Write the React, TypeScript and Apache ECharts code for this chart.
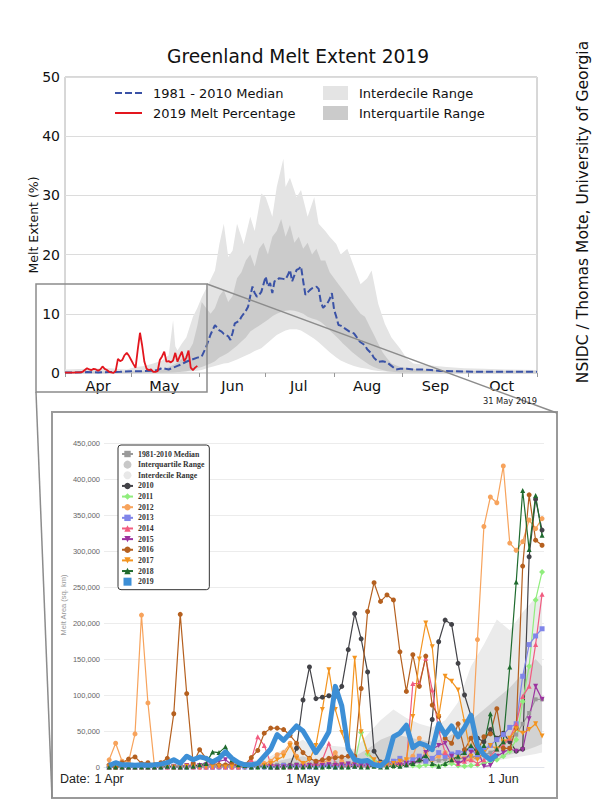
import React, { useEffect, useRef } from "react";
import * as echarts from "echarts";

// ---------- TOP CHART (day index: 0 = 1 Apr) ----------
const monthNames = ["Apr", "May", "Jun", "Jul", "Aug", "Sep", "Oct"];
const monthLabelDays = [15, 45, 76, 106, 137, 168, 198];
const monthStartDays = [0, 30, 61, 91, 122, 153, 183, 214];

// 1981-2010 median melt extent (%)
const medianTop: number[][] = [[0,0.1],[5,0.1],[10,0.15],[15,0.1],[20,0.15],[25,0.2],[30,0.3],[35,0.3],[40,0.4],[42,0.5],[44,0.85],[47,0.6],[49,0.9],[51,1.2],[53,1.5],[55,1.9],[57,2.2],[60,2.6],[62,2.8],[64,4.4],[66,6.5],[68,8.1],[70,7.2],[71,7.0],[72,6.6],[73,6.4],[74,6.2],[75,5.6],[76,6.8],[77,8.4],[79,8.8],[80,9.5],[82,10.5],[83,11.2],[84,13],[85,14.6],[86,13.5],[87,12.9],[88,13.2],[89,13.7],[90,15],[91,16.3],[92,14.6],[93,15.2],[94,13.5],[95,15.5],[96,15.6],[97,16],[99,15.9],[100,15.8],[101,16.5],[102,17.4],[103,15.5],[104,16.5],[105,17.4],[106,17.6],[107,18],[108,15.5],[109,13.2],[110,13.6],[111,14],[112,14.3],[114,14.6],[115,14.2],[116,12],[117,11],[118,11.4],[119,11.8],[120,12.5],[121,13.5],[122,10.7],[123,9.5],[124,8.1],[125,8],[126,7.8],[127,7.5],[129,7],[131,6.7],[132,6.2],[133,5.6],[134,5.2],[136,4.7],[137,4],[139,3.3],[140,2.6],[142,1.9],[144,2.0],[146,1.8],[148,1.2],[150,0.6],[152,0.7],[155,0.7],[158,0.6],[162,0.6],[166,0.5],[170,0.35],[175,0.3],[180,0.25],[190,0.2],[200,0.2],[214,0.2]];

// 2019 melt percentage (%), 1 Apr - 31 May
const melt2019Top = [0.05,0.05,0.05,0.05,0.05,0.1,0.1,0.1,0.2,0.5,0.8,0.6,0.5,0.7,0.6,0.4,0.6,1.1,0.7,0.5,0.2,0.1,0.0,0.4,2.4,2.0,2.2,3.0,3.4,2.9,2.2,1.5,0.9,4.0,6.8,4.6,1.9,0.7,0.5,0.6,0.2,0.2,0.3,2.2,2.8,3.6,1.9,2.0,1.8,2.1,3.4,1.9,2.8,3.6,2.0,2.6,3.8,0.9,0.5,0.9,1.2];

// interdecile range [day, low, high]
const interdecileTop: number[][] = [[0,0,0.6],[10,0,0.7],[20,0,0.8],[28,0,0.6],[32,0,1.0],[36,0,1.2],[40,0,1.6],[44,0.05,2.1],[47,0.1,3],[49,0.1,8.9],[50,0.1,4.5],[51,0.1,3.8],[53,0.2,5],[55,0.2,6],[58,0.3,9.5],[60,0.4,11],[62,0.5,12.8],[65,0.9,15],[68,1.2,17.3],[70,1.4,21.8],[72,1.6,25.2],[74,1.7,19.6],[76,2.0,20.7],[78,2.3,25.2],[81,2.8,21.8],[84,3.3,26.4],[86,3.7,24],[89,4.2,30.3],[91,4.8,29.7],[94,5.8,26.4],[96,6.4,31.4],[99,7.0,36.2],[100,7.2,31.4],[102,7.4,33],[105,7.4,29.7],[107,7.2,30.9],[110,6.5,26.4],[113,5.8,29.7],[115,5.2,25.2],[118,4.2,24],[120,3.5,23],[123,2.6,21.8],[125,2.1,20],[128,1.6,21],[131,1.2,18],[134,0.9,15],[137,0.7,16],[139,0.5,17.3],[142,0.35,11.7],[145,0.25,8.3],[148,0.2,6],[152,0.15,4.1],[155,0.1,2.4],[158,0.1,1.6],[165,0.05,1.3],[173,0.05,1],[181,0.05,0.8],[190,0.05,0.7],[200,0.05,0.6],[214,0.05,0.5]];

// interquartile range [day, low, high]
const interquartileTop: number[][] = [[0,0,0.2],[20,0,0.25],[35,0,0.3],[44,0,0.5],[50,0.1,1.5],[55,0.3,3],[58,0.5,5],[60,0.8,8],[62,1.0,12],[64,1.3,11],[66,1.6,10],[68,2.0,11],[70,2.6,13],[72,3.0,14],[74,3.4,12],[76,4.0,13],[78,4.6,16],[80,5.3,17],[82,6.0,19],[84,7.0,20],[86,7.5,18],[88,8.0,21],[90,8.5,22],[92,9.0,20],[94,9.6,23],[96,10.0,24],[98,10.3,26],[100,10.5,23],[102,10.6,25],[104,10.5,22],[106,10.3,23],[108,10.0,21],[110,9.5,22],[112,9.2,20],[114,9.0,21],[116,8.6,19],[118,8.0,19],[120,7.2,17],[122,6.5,16],[124,5.8,15],[126,5.0,14],[128,4.3,13],[130,3.6,12],[132,3.0,11],[134,2.4,10],[136,1.9,9.5],[138,1.4,8],[140,1.0,6.5],[142,0.7,5],[144,0.5,3.5],[146,0.3,2.5],[148,0.2,1.6],[152,0.1,1.0],[160,0.05,0.6],[170,0.05,0.45],[185,0.05,0.35],[214,0.05,0.3]];

// ---------- BOTTOM CHART (melt area, sq. km; day 0 = 1 Apr) ----------
const bottomTickDays = [0, 30, 61];
const bottomTickLabels = ["1 Apr", "1 May", "1 Jun"];

const y2010 = [0,0,1000,0,0,1000,0,0,0,1000, 0,0,0,1000,0,0,0,0,1000,0, 0,0,0,1000,0,0,0,0,2000,26000, 93000,139000,95000,97000,99000,98000,112000,163000,213000,178000, 132000,22000,7000,2000,1000,2000,3000,5000,10000,8000, 66000,174000,204000,198000,144000,100000,71000,40000,35000,52000, 40000,47000,35000,22000,25000,292000,372000,329000];
const y2011 = [0,0,0,0,0,0,0,0,0,0, 0,0,0,0,0,0,0,0,0,0, 0,0,0,0,0,0,0,0,0,0, 0,0,0,0,0,0,0,0,5000,48000, 18000,8000,3000,2000,1000,2000,4000,2000,1000,3000, 2000,1000,3000,5000,2000,1000,2000,3000,5000,8000, 10000,15000,22000,38000,91000,140000,232000,271000];
const y2012 = [10000,33000,8000,7000,46000,211000,89000,2000,1000,0, 0,1000,0,0,1000,0,0,0,1000,0, 0,2000,1000,3000,5000,8000,17000,20000,33000,15000, 5000,3000,2000,5000,10000,20000,8000,3000,5000,2000, 3000,5000,3000,4000,5000,8000,10000,15000,40000,20000, 10000,15000,20000,10000,15000,12000,10000,177000,334000,375000, 367000,418000,311000,301000,313000,343000,331000,345000];
const y2013 = [0,1000,0,0,0,1000,0,0,0,0, 1000,0,0,0,1000,0,0,0,0,1000, 0,0,0,1000,0,0,0,2000,0,0, 1000,0,0,2000,1000,0,1000,2000,1000,3000, 2000,3000,5000,6000,8000,12000,6000,10000,15000,8000, 12000,20000,15000,18000,20000,22000,25000,15000,25000,30000, 38000,45000,55000,60000,126000,170000,182000,192000];
const y2014 = [0,0,0,0,0,0,0,0,1000,0, 0,0,1000,0,0,0,0,1000,0,0, 0,2000,10000,42000,30000,5000,0,1000,0,0, 1000,2000,5000,10000,33000,5000,2000,3000,2000,3000, 2000,3000,2000,4000,3000,5000,5000,116000,116000,151000, 107000,51000,20000,10000,5000,8000,10000,5000,10000,15000, 25000,30000,40000,60000,98000,112000,170000,240000];
const y2015 = [0,0,0,0,1000,0,0,0,0,0, 0,1000,2000,3000,2000,3000,5000,8000,10000,3000, 1000,0,0,1000,2000,1000,0,0,1000,2000, 1000,2000,3000,2000,3000,2000,3000,4000,3000,2000, 3000,2000,3000,4000,5000,3000,5000,5000,8000,20000, 25000,30000,33000,15000,5000,10000,20000,25000,1000,2000, 15000,20000,25000,22000,24000,67000,112000,94000];
const y2016 = [3000,0,6000,11000,14000,5000,6000,3000,6000,12000, 74000,212000,102000,5000,24000,12000,5000,3000,3000,4000, 3000,3000,13000,23000,47000,54000,54000,52000,44000,33000, 20000,12000,8000,10000,12000,13000,14000,15000,15000,109000, 216000,256000,230000,239000,232000,160000,105000,156000,112000,154000, 86000,70000,40000,33000,60000,24000,40000,21000,42000,46000, 81000,26000,26000,54000,279000,378000,315000,308000];
const y2017 = [0,0,0,0,0,1000,0,0,0,0, 0,0,1000,0,0,0,0,1000,0,0, 0,0,0,1000,2000,5000,10000,15000,30000,12000, 5000,10000,30000,80000,135000,80000,48000,22000,151000,49000, 20000,10000,5000,3000,5000,8000,10000,70000,150000,200000, 167000,70000,126000,119000,107000,63000,15000,10000,20000,30000, 25000,35000,40000,53000,47000,52000,60000,43000];
const y2018 = [0,0,0,0,0,0,0,0,0,1000, 0,0,0,1000,3000,5000,21000,20000,28000,10000, 3000,2000,0,0,1000,0,0,0,1000,0, 0,1000,0,0,1000,0,0,0,1000,0, 0,1000,0,0,2000,1000,3000,5000,10000,16000, 5000,1000,5000,10000,15000,20000,30000,20000,30000,74000, 25000,35000,139000,257000,384000,302000,377000,322000];
const y2019 = [2000,6000,3000,3000,2500,3000,2500,3000,4000,6000, 10000,5000,15000,10000,14000,12000,7000,12000,21000,12000, 6000,3000,3000,5000,15000,25000,45000,37000,47000,57000, 50000,35000,20000,33000,49000,112000,85000,25000,10000,8000, 9000,3000,1500,9000,42000,47000,58000,27000,33000,30000, 24000,60000,45000,57000,42000,55000,72000,30000,17000,10000,17000];
const medianBottom = [1000,1000,1500,1000,1000,1500,1000,1500,1500,1000, 1500,2000,1500,2000,2000,1500,2000,2000,2500,2000, 2500,2000,2500,3000,2500,3000,3000,3500,3000,4000, 3500,4000,4000,4500,4000,5000,4500,5000,5500,5000, 6000,5500,6000,7000,6500,7000,8000,7500,8000,9000, 10000,9000,11000,12000,11000,13000,15000,14000,17000,20000, 25000,33000,40000,45000,60000,75000,94000,94000];
const interdecileBottom: number[][] = [[0,0,3000],[5,0,3000],[10,0,4000],[15,0,5000],[20,0,6000],[22,0,8000],[25,0,15000],[28,0,30000],[30,0,38000],[32,0,25000],[34,0,30000],[36,0,28000],[38,0,25000],[40,0,45000],[42,0,65000],[44,0,80000],[46,500,68000],[48,1000,60000],[50,1500,55000],[52,2000,65000],[54,3000,90000],[56,4000,140000],[58,6000,170000],[60,9000,205000],[62,12000,190000],[64,15000,215000],[66,18000,235000],[67,20000,240000]];
const interquartileBottom: number[][] = [[0,0,1500],[10,0,2000],[20,500,3000],[25,800,6000],[28,1000,12000],[30,1200,15000],[32,1300,10000],[34,1500,12000],[36,1800,12000],[38,2000,15000],[40,2500,25000],[42,3000,38000],[44,3500,45000],[46,4000,42000],[48,4500,38000],[50,5000,35000],[52,6000,40000],[54,7000,50000],[56,8000,65000],[58,10000,80000],[60,13000,95000],[62,17000,110000],[64,22000,130000],[66,28000,150000],[67,32000,140000]];

const yearStyles = [
  { name: "2010", data: y2010, color: "#434348", symbol: "circle", rot: 0 },
  { name: "2011", data: y2011, color: "#90ed7d", symbol: "diamond", rot: 0 },
  { name: "2012", data: y2012, color: "#f7a35c", symbol: "circle", rot: 0 },
  { name: "2013", data: y2013, color: "#8085e9", symbol: "rect", rot: 0 },
  { name: "2014", data: y2014, color: "#f15c80", symbol: "triangle", rot: 0 },
  { name: "2015", data: y2015, color: "#9c33a0", symbol: "triangle", rot: 180 },
  { name: "2016", data: y2016, color: "#b5601f", symbol: "circle", rot: 0 },
  { name: "2017", data: y2017, color: "#f39420", symbol: "triangle", rot: 180 },
  { name: "2018", data: y2018, color: "#1f6b2e", symbol: "triangle", rot: 0 },
];

const TOPFONT = "DejaVu Sans";
const HCFONT = "Liberation Sans";

function band(points: number[][], xi: number, fill: string) {
  return {
    type: "custom",
    xAxisIndex: xi,
    yAxisIndex: xi,
    data: points,
    encode: { x: 0, y: [1, 2] },
    z: 1,
    silent: true,
    renderItem: (params: any, api: any) => {
      if (params.dataIndex !== 0) return null;
      const upper = points.map((p) => api.coord([p[0], p[2]]));
      const lower = points.slice().reverse().map((p) => api.coord([p[0], p[1]]));
      return { type: "polygon", shape: { points: upper.concat(lower) }, style: { fill } };
    },
  };
}

const legendNameMap: Record<string, string> = { IQR2: "Interquartile Range", IDR2: "Interdecile Range" };

function buildOption() {
  const idx = (arr: number[]) => arr.map((v, i) => [i, v]);
  const series: any[] = [];
  // top
  series.push({ ...band(interdecileTop, 0, "#e4e4e4"), name: "Interdecile Range", itemStyle: { color: "#e4e4e4" } });
  series.push({ ...band(interquartileTop, 0, "#cbcbcb"), name: "Interquartile Range", itemStyle: { color: "#cbcbcb" } });
  series.push({
    type: "line", name: "1981 - 2010 Median", xAxisIndex: 0, yAxisIndex: 0, data: medianTop,
    symbol: "none", z: 3, lineStyle: { color: "#3a52a6", width: 2, type: [7, 3] }, itemStyle: { color: "#3a52a6" },
  });
  series.push({
    type: "line", name: "2019 Melt Percentage", xAxisIndex: 0, yAxisIndex: 0, data: idx(melt2019Top),
    symbol: "none", z: 4, lineStyle: { color: "#e3161e", width: 1.8 }, itemStyle: { color: "#e3161e" },
  });
  // bottom
  series.push({ ...band(interdecileBottom, 1, "#ebebeb"), name: "IDR2", itemStyle: { color: "#e8e8e8" } });
  series.push({ ...band(interquartileBottom, 1, "#d2d2d2"), name: "IQR2", itemStyle: { color: "#c8c8c8" } });
  series.push({
    type: "line", name: "1981-2010 Median", xAxisIndex: 1, yAxisIndex: 1, data: idx(medianBottom),
    symbol: "rect", symbolSize: 4, z: 3, lineStyle: { color: "#9a9a9a", width: 1.2 }, itemStyle: { color: "#9a9a9a" },
  });
  yearStyles.forEach((s) => {
    series.push({
      type: "line", name: s.name, xAxisIndex: 1, yAxisIndex: 1, data: idx(s.data),
      symbol: s.symbol, symbolRotate: s.rot, symbolSize: s.symbol === "diamond" ? 6 : 5, z: 3,
      lineStyle: { color: s.color, width: 1.2 }, itemStyle: { color: s.color },
    });
  });
  series.push({
    type: "line", name: "2019", xAxisIndex: 1, yAxisIndex: 1, data: idx(y2019),
    symbol: "none", z: 5, lineStyle: { color: "#3d8fd6", width: 5, join: "round" }, itemStyle: { color: "#3d8fd6" },
  });

  const noSymbol = { color: "rgba(0,0,0,0)", borderWidth: 0 };

  return {
    animation: false,
    backgroundColor: "#ffffff",
    title: {
      text: "Greenland Melt Extent 2019", left: 293, top: 42, textAlign: "center",
      textStyle: { fontFamily: TOPFONT, fontSize: 18.6, fontWeight: "normal", color: "#111" },
    },
    grid: [
      { left: 65, top: 77, width: 472, height: 296, show: true, borderColor: "#b0b0b0", borderWidth: 1, backgroundColor: "transparent", outerBoundsMode: "none" },
      { left: 104, top: 443, width: 440, height: 324, outerBoundsMode: "none" },
    ],
    xAxis: [
      {
        type: "value", gridIndex: 0, min: 0, max: 214,
        axisLine: { show: false }, splitLine: { show: false },
        axisTick: { show: true, customValues: monthStartDays, length: 4, lineStyle: { color: "#999" } },
        axisLabel: {
          customValues: monthLabelDays, margin: 5,
          formatter: (v: number) => monthNames[monthLabelDays.indexOf(Math.round(v))] ?? "",
          fontFamily: TOPFONT, fontSize: 14.5, color: "#111",
        },
      },
      {
        type: "value", gridIndex: 1, min: -0.8, max: 67.3,
        axisLine: { show: true, lineStyle: { color: "#dfe3ea" } }, splitLine: { show: false }, axisTick: { show: false },
        axisLabel: {
          customValues: bottomTickDays, margin: 5,
          formatter: (v: number) => bottomTickLabels[bottomTickDays.indexOf(Math.round(v))] ?? "",
          fontFamily: HCFONT, fontSize: 12.5, color: "#222",
        },
      },
    ],
    yAxis: [
      {
        type: "value", gridIndex: 0, min: 0, max: 50, interval: 10,
        axisLine: { show: false }, axisTick: { show: false },
        splitLine: { show: true, lineStyle: { color: "#dcdcdc", width: 1 } },
        axisLabel: { fontFamily: TOPFONT, fontSize: 14, color: "#111", margin: 5 },
        name: "Melt Extent (%)", nameLocation: "middle", nameGap: 25, nameMoveOverlap: false,
        nameTextStyle: { fontFamily: TOPFONT, fontSize: 12.5, color: "#111" },
      },
      {
        type: "value", gridIndex: 1, min: 0, max: 450000, interval: 50000,
        axisLine: { show: false }, axisTick: { show: false },
        splitLine: { show: true, lineStyle: { color: "#ececec", width: 1 } },
        axisLabel: { fontFamily: HCFONT, fontSize: 7.5, color: "#666", margin: 4, formatter: (v: number) => v.toLocaleString("en-US") },
        name: "Melt Area (sq. km)", nameLocation: "middle", nameGap: 37, nameMoveOverlap: false,
        nameTextStyle: { fontFamily: HCFONT, fontSize: 7.5, color: "#999" },
      },
    ],
    legend: [
      {
        data: [
          { name: "1981 - 2010 Median", itemStyle: noSymbol },
          { name: "2019 Melt Percentage", itemStyle: noSymbol },
        ],
        orient: "vertical", left: 114, top: 86,
        padding: 0, itemWidth: 27, itemHeight: 14, itemGap: 6,
        textStyle: { fontFamily: TOPFONT, fontSize: 13, color: "#111", lineHeight: 14, padding: [0, 0, 0, 6] },
      },
      {
        data: [
          { name: "Interdecile Range", icon: "rect", itemStyle: { color: "#e4e4e4" } },
          { name: "Interquartile Range", icon: "rect", itemStyle: { color: "#cbcbcb" } },
        ],
        orient: "vertical", left: 323, top: 86, padding: 0, itemWidth: 25, itemHeight: 14, itemGap: 6,
        textStyle: { fontFamily: TOPFONT, fontSize: 13, color: "#111", lineHeight: 14, padding: [0, 0, 0, 6] },
      },
      {
        data: [
          { name: "1981-2010 Median" },
          { name: "IQR2", icon: "circle", itemStyle: { color: "#c8c8c8" } },
          { name: "IDR2", icon: "circle", itemStyle: { color: "#e8e8e8" } },
          ...yearStyles.map((s) => ({ name: s.name })),
          { name: "2019", icon: "path://M0 0H10V10H0Z", itemStyle: { color: "#3d8fd6" } },
        ],
        formatter: (n: string) => legendNameMap[n] ?? n,
        orient: "vertical", left: 118, top: 445, padding: [5, 5, 4, 3],
        itemWidth: 11, itemHeight: 8, itemGap: 2.64,
        backgroundColor: "#fff", borderColor: "#333", borderWidth: 1, borderRadius: 3,
        textStyle: { fontFamily: "Liberation Serif", fontSize: 7.8, fontWeight: "bold", color: "#333", lineHeight: 8 },
      },
    ],
    graphic: {
      elements: [
        { type: "rect", z: -10, shape: { x: 52, y: 412, width: 505, height: 386 }, style: { fill: "#fff", stroke: "#9a9a9a", lineWidth: 2 } },
        { type: "rect", z: 100, shape: { x: 36, y: 284, width: 171, height: 108 }, style: { fill: "none", stroke: "#8c8c8c", lineWidth: 1.5 } },
        { type: "line", z: 100, shape: { x1: 207, y1: 284, x2: 557, y2: 413 }, style: { stroke: "#8c8c8c", lineWidth: 1.5 } },
        { type: "line", z: 100, shape: { x1: 36, y1: 392, x2: 52, y2: 798 }, style: { stroke: "#8c8c8c", lineWidth: 1.5 } },
        { type: "text", z: 100, x: 537, y: 401, style: { text: "31 May 2019", fontFamily: TOPFONT, fontSize: 8.3, fill: "#222", align: "right", verticalAlign: "middle" } },
        { type: "text", z: 100, x: 583, y: 212, rotation: Math.PI / 2, style: { text: "NSIDC / Thomas Mote, University of Georgia", fontFamily: TOPFONT, fontSize: 15.5, fill: "#111", align: "center", verticalAlign: "middle" } },
        { type: "text", z: 100, x: 60, y: 779, style: { text: "Date:", fontFamily: HCFONT, fontSize: 12.5, fill: "#222", align: "left", verticalAlign: "middle" } },
      ],
    },
    series,
  };
}

export default function App() {
  const ref = useRef<HTMLDivElement>(null);
  useEffect(() => {
    const chart = echarts.init(ref.current!, null, { renderer: "svg" });
    chart.setOption(buildOption() as any);
    return () => chart.dispose();
  }, []);
  return <div ref={ref} style={{ position: "absolute", left: 0, top: 0, width: 600, height: 800 }} />;
}
